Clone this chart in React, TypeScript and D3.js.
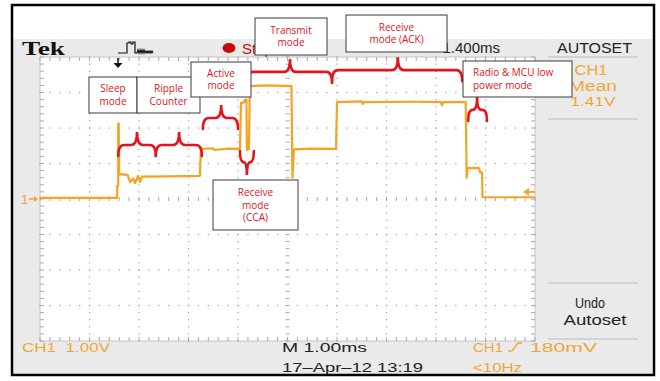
import React from "react";
import * as d3 from "d3";

const W = 660;
const H = 381;

// CH1 acquisition: time in ms from the left graticule edge, level in volts
const traceTimeMs = [
  0, 1.56, 1.56, 1.58, 1.58, 1.59, 1.6, 1.77, 1.82, 1.88, 1.92, 1.98, 2.02, 2.06, 2.6,
  3.23, 3.25, 3.5, 3.52, 3.8, 4.04, 4.06, 4.12, 4.14, 4.17, 4.18, 4.22, 4.24, 4.6,
  5.08, 5.1, 5.13, 5.5, 5.98, 6.0, 6.5, 6.52, 6.54, 7.6, 8.1, 8.12, 8.15, 8.6, 8.62,
  8.64, 8.87, 8.89, 8.93, 8.94, 10,
];
const traceVolts = [
  0.03, 0.03, 0.37, 0.37, 2.13, 2.13, 0.7, 0.68, 0.48, 0.58, 0.45, 0.65, 0.48, 0.63, 0.64,
  0.65, 1.41, 1.43, 1.38, 1.42, 1.41, 2.7, 2.72, 2.8, 2.8, 1.38, 1.4, 3.18, 3.2,
  3.18, 0.6, 1.4, 1.42, 1.41, 2.73, 2.75, 2.68, 2.73, 2.74, 2.73, 2.64, 2.73, 2.73, 0.6,
  0.87, 0.87, 0.75, 0.75, 0.05, 0.05,
];

// Operating-mode braces: span and tip in ms, flat level in volts, tip direction (-1 up, 1 down)
const braceStartMs = [1.58, 2.34, 3.29, 4.04, 4.18, 5.9, 8.65];
const braceEndMs = [2.34, 3.27, 4.0, 4.32, 5.9, 8.53, 9.03];
const braceTipMs = [1.96, 2.81, 3.66, 4.18, 5.05, 7.23, 8.83];
const braceLevelV = [1.52, 1.52, 2.28, 1.04, 3.58, 3.63, 2.51];
const braceDir = [-1, -1, -1, 1, -1, -1, -1];

// Callout labels
const calloutLines = [
  ["Sleep", "mode"],
  ["Ripple", "Counter"],
  ["Active", "mode"],
  ["Transmit", "mode"],
  ["Receive", "mode", "(CCA)"],
  ["Receive", "mode (ACK)"],
  ["Radio & MCU low", "power mode"],
];

// Callout box placement (px)
const calloutBox = [
  { x: 89, y: 77, w: 48, h: 36, align: "middle" },
  { x: 137, y: 77, w: 63, h: 36, align: "middle" },
  { x: 191, y: 62, w: 60, h: 35, align: "middle" },
  { x: 255, y: 18, w: 72, h: 37, align: "middle" },
  { x: 213, y: 180, w: 85, h: 50, align: "middle" },
  { x: 346, y: 15, w: 101, h: 37, align: "middle" },
  { x: 463, y: 61, w: 109, h: 36, align: "start" },
];

const ORANGE = "#f5a320";
const TEXT_ORANGE = "#f2a632";
const RED = "#e3141b";
const GRID = "#a9a9a9";
const PANEL = "#eaeaea";

const plot = { left: 40, right: 535, top: 57, bottom: 341 };

const x = d3.scaleLinear().domain([0, 10]).range([plot.left, plot.right]);
const y = d3.scaleLinear().domain([-4, 4]).range([plot.bottom, plot.top]);

function bracePath(x0: number, x1: number, xm: number, yf: number, dir: number) {
  const endLen = 11;
  const tipLen = 13;
  const r = Math.min(6, (xm - x0) / 2, (x1 - xm) / 2);
  const ye = yf - dir * endLen;
  const yt = yf + dir * tipLen;
  return `M${x0},${ye} Q${x0},${yf} ${x0 + r},${yf} L${xm - r},${yf} Q${xm},${yf} ${xm},${yt} Q${xm},${yf} ${xm + r},${yf} L${x1 - r},${yf} Q${x1},${yf} ${x1},${ye}`;
}

function Graticule() {
  const els: React.ReactNode[] = [];
  const minorT = d3.range(0, 10.001, 0.2);
  const minorV = d3.range(-4, 4.001, 0.2);
  // dotted division lines
  for (let i = 1; i < 10; i++) {
    if (i === 5) continue;
    minorV.forEach((v, k) =>
      els.push(<rect key={`dv${i}-${k}`} x={x(i) - 0.6} y={y(v) - 0.6} width={1.3} height={1.3} fill={GRID} />)
    );
  }
  for (let j = -3; j <= 3; j++) {
    if (j === 0) continue;
    minorT.forEach((t, k) =>
      els.push(<rect key={`dh${j}-${k}`} x={x(t) - 0.6} y={y(j) - 0.6} width={1.3} height={1.3} fill={GRID} />)
    );
  }
  // center cross ticks
  minorT.forEach((t, k) =>
    els.push(<line key={`ch${k}`} x1={x(t)} x2={x(t)} y1={y(0) - 2} y2={y(0) + 2} stroke={GRID} strokeWidth={1} />)
  );
  minorV.forEach((v, k) =>
    els.push(<line key={`cv${k}`} x1={x(5) - 2} x2={x(5) + 2} y1={y(v)} y2={y(v)} stroke={GRID} strokeWidth={1} />)
  );
  // edge ticks
  minorT.forEach((t, k) => {
    els.push(<line key={`et${k}`} x1={x(t)} x2={x(t)} y1={plot.top} y2={plot.top + 4} stroke={GRID} strokeWidth={1} />);
    els.push(<line key={`eb${k}`} x1={x(t)} x2={x(t)} y1={plot.bottom} y2={plot.bottom - 4} stroke={GRID} strokeWidth={1} />);
  });
  minorV.forEach((v, k) => {
    els.push(<line key={`el${k}`} x1={plot.left} x2={plot.left + 4} y1={y(v)} y2={y(v)} stroke={GRID} strokeWidth={1} />);
    els.push(<line key={`er${k}`} x1={plot.right} x2={plot.right - 4} y1={y(v)} y2={y(v)} stroke={GRID} strokeWidth={1} />);
  });
  return <g>{els}</g>;
}

export default function App() {
  const points: [number, number][] = traceTimeMs.map((t, i) => [t, traceVolts[i]]);
  const line = d3
    .line<[number, number]>()
    .x((d) => x(d[0]))
    .y((d) => y(d[1]));

  const sans = "'Liberation Sans', Arial, sans-serif";
  const calloutFont = "'Open Sans', sans-serif";

  return (
    <svg width={W} height={H} style={{ position: "absolute", left: 0, top: 0, display: "block" }}>
      <rect x={0} y={0} width={W} height={H} fill="#fff" />
      <rect x={13} y={39} width={639} height={336} fill={PANEL} />
      <rect x={plot.left} y={plot.top} width={plot.right - plot.left} height={plot.bottom - plot.top} fill="#fff" stroke="#c4c4c4" strokeWidth={1} />
      <Graticule />

      {/* header bar */}
      <text x={22} y={55} fontFamily="'Liberation Serif', 'DejaVu Serif', serif" fontWeight="bold" fontSize={18} textLength={43} lengthAdjust="spacingAndGlyphs" fill="#111">Tek</text>
      <path d="M118,53 H127 V43 H129 V42 H131 V44 H133 V42 H135 V53 H137 L138,50 L139,53 L140,50 L141,53 L142,50 L143,53 L144,50 L145,53 L146,51 L147,53 L148,51 L149,53 L150,51 L151,53 L152,51 L153,53" fill="none" stroke="#111" strokeWidth={1.2} />
      <ellipse cx={229} cy={48} rx={6.5} ry={5} fill="#c80a0a" />
      <text x={242} y={54} fontFamily={sans} fontSize={15} fill="#c80a0a">Stop</text>
      <text x={500} y={53} textAnchor="end" fontFamily={sans} fontSize={15} fill="#222">1.400ms</text>
      <text x={557} y={53} fontFamily={sans} fontSize={15} textLength={75} lengthAdjust="spacingAndGlyphs" fill="#222">AUTOSET</text>

      {/* trigger position marker */}
      <line x1={118} x2={118} y1={58} y2={64} stroke="#111" strokeWidth={1.5} />
      <path d="M113.5,63 L122.5,63 L118,68 Z" fill="#111" />

      {/* right side menu */}
      {[57, 119, 283, 339].map((yy) => (
        <line key={yy} x1={548} x2={638} y1={yy} y2={yy} stroke="#bcbcbc" strokeWidth={1} />
      ))}
      <text x={591} y={75} textAnchor="middle" fontFamily={sans} fontSize={14} textLength={33} lengthAdjust="spacingAndGlyphs" fill={TEXT_ORANGE}>CH1</text>
      <text x={593} y={91} textAnchor="middle" fontFamily={sans} fontSize={14} textLength={48} lengthAdjust="spacingAndGlyphs" fill={TEXT_ORANGE}>Mean</text>
      <text x={593} y={106} textAnchor="middle" fontFamily={sans} fontSize={13} textLength={45} lengthAdjust="spacingAndGlyphs" fill={TEXT_ORANGE}>1.41V</text>
      <text x={590} y={308} textAnchor="middle" fontFamily={sans} fontSize={14} textLength={30} lengthAdjust="spacingAndGlyphs" fill="#222">Undo</text>
      <text x={595} y={325} textAnchor="middle" fontFamily={sans} fontSize={14} textLength={63} lengthAdjust="spacingAndGlyphs" fill="#222">Autoset</text>

      {/* bottom status line */}
      <text x={22} y={352} fontFamily={sans} fontSize={13} textLength={88} lengthAdjust="spacingAndGlyphs" fill={TEXT_ORANGE} xmlSpace="preserve">CH1  1.00V</text>
      <text x={282} y={352} fontFamily={sans} fontSize={13} textLength={85} lengthAdjust="spacingAndGlyphs" fill="#222">M 1.00ms</text>
      <text x={282} y={372} fontFamily={sans} fontSize={13} textLength={141} lengthAdjust="spacingAndGlyphs" fill="#222">17–Apr–12 13:19</text>
      <text x={473} y={352} fontFamily={sans} fontSize={13} textLength={30} lengthAdjust="spacingAndGlyphs" fill={TEXT_ORANGE}>CH1</text>
      <path d="M508,351 H512 L518,343 H522" fill="none" stroke={TEXT_ORANGE} strokeWidth={1.3} />
      <text x={530} y={352} fontFamily={sans} fontSize={13} textLength={67} lengthAdjust="spacingAndGlyphs" fill={TEXT_ORANGE}>180mV</text>
      <text x={473} y={372} fontFamily={sans} fontSize={13} textLength={49} lengthAdjust="spacingAndGlyphs" fill={TEXT_ORANGE}>&lt;10Hz</text>

      {/* ground reference and trigger level markers */}
      <text x={21} y={204} fontFamily={sans} fontSize={13} fill={TEXT_ORANGE}>1</text>
      <line x1={29} x2={35} y1={y(0)} y2={y(0)} stroke={TEXT_ORANGE} strokeWidth={1.5} />
      <path d={`M34,${y(0) - 3} L38,${y(0)} L34,${y(0) + 3} Z`} fill={TEXT_ORANGE} />
      <path d={`M523,${y(0.2)} L529,${y(0.2) - 4} L529,${y(0.2) + 4} Z`} fill={TEXT_ORANGE} />
      <line x1={528} x2={535} y1={y(0.2)} y2={y(0.2)} stroke={TEXT_ORANGE} strokeWidth={1.8} />

      {/* CH1 trace */}
      <path d={line(points) ?? ""} fill="none" stroke={ORANGE} strokeWidth={2.2} strokeLinejoin="round" />

      {/* mode braces */}
      {braceStartMs.map((t0, i) => (
        <path
          key={`b${i}`}
          d={bracePath(x(t0), x(braceEndMs[i]), x(braceTipMs[i]), y(braceLevelV[i]), braceDir[i])}
          fill="none"
          stroke={RED}
          strokeWidth={2.6}
          strokeLinecap="round"
        />
      ))}

      {/* callouts */}
      {calloutBox.map((b, i) => {
        const lines = calloutLines[i];
        const lh = 12.5;
        const y0 = b.y + b.h / 2 - ((lines.length - 1) * lh) / 2 + 3.5;
        const tx = b.align === "start" ? b.x + 10 : b.x + b.w / 2;
        return (
          <g key={`c${i}`}>
            <rect x={b.x} y={b.y} width={b.w} height={b.h} fill="#fff" stroke="#3a3a3a" strokeWidth={1} />
            {lines.map((s, k) => (
              <text key={k} x={tx} y={y0 + k * lh} textAnchor={b.align as any} fontFamily={calloutFont} fontSize={10} fill={RED}>
                {s}
              </text>
            ))}
          </g>
        );
      })}

      <rect x={12} y={5} width={642} height={370} fill="none" stroke="#000" strokeWidth={2.5} />
    </svg>
  );
}
